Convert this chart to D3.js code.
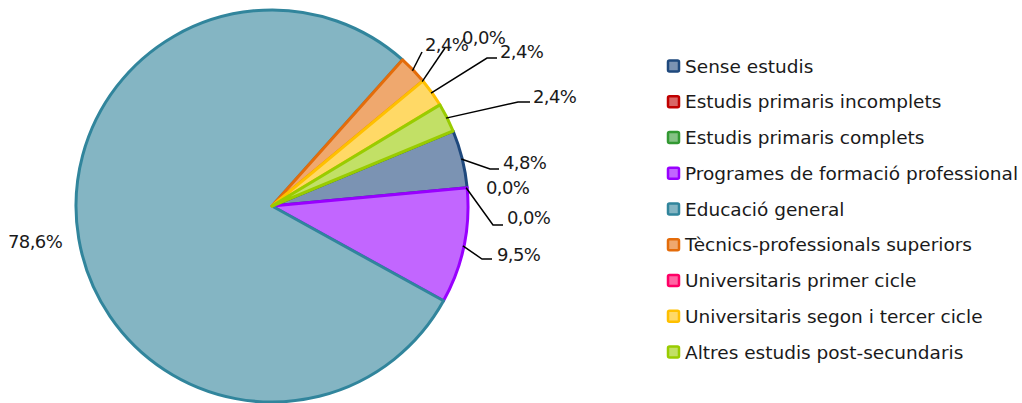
<!DOCTYPE html>
<html>
<head>
<meta charset="utf-8">
<script src="https://cdn.jsdelivr.net/npm/d3@7"></script>
<style>
  body { margin: 0; background: #fff; }
  text { font-family: "DejaVu Sans", sans-serif; fill: #1a1a1a; }
</style>
</head>
<body>
<div id="chart"></div>
<script>
// Categories and counts (percentages derived from these)
var categories = [
  "Sense estudis",
  "Estudis primaris incomplets",
  "Estudis primaris complets",
  "Programes de formació professional",
  "Educació general",
  "Tècnics-professionals superiors",
  "Universitaris primer cicle",
  "Universitaris segon i tercer cicle",
  "Altres estudis post-secundaris"
];
var counts = [2, 0, 0, 4, 33, 1, 0, 1, 1];

// Colours: border colour and lighter fill
var strokeColors = ["#1f497d", "#c00000", "#339933", "#9900ff", "#31859c", "#e46c0a", "#ff0066", "#ffc000", "#99cc00"];
var fillColors   = ["#7b93b3", "#d96666", "#85c285", "#c266ff", "#84b5c3", "#efa86e", "#ff66a3", "#ffd966", "#c2e066"];

// label anchor points (text start x, baseline y) and leader elbow, per slice
var labelLayout = [
  { x: 503, y: 169, elbow: [490, 169], end: [499, 169] },
  { x: 486, y: 194, elbow: null },
  { x: 507, y: 224, elbow: [493, 225], end: [503, 225] },
  { x: 497, y: 261, elbow: [482, 259], end: [492, 259] },
  { x: 8,   y: 248, elbow: null },
  { x: 425, y: 51,  elbow: [422, 52],  end: [422, 52] },
  { x: 462, y: 44,  elbow: [445, 48],  end: [445, 48] },
  { x: 500, y: 58,  elbow: [487, 58],  end: [497, 58] },
  { x: 533, y: 103, elbow: [518, 102], end: [530, 102] }
];

var svgWidth = 1022;
var svgHeight = 403;
var cx = 272, cy = 206, radius = 196;

var svg = d3.select("#chart")
  .append("svg")
  .attr("width", svgWidth)
  .attr("height", svgHeight);

var total = d3.sum(counts);
var fmt = v => (v / total * 100).toFixed(1).replace(".", ",") + "%";

var pie = d3.pie()
  .sort(null)
  .value(d => d)
  .startAngle(67.5 * Math.PI / 180)
  .endAngle(67.5 * Math.PI / 180 + 2 * Math.PI);

var arcs = pie(counts);
var arc = d3.arc().innerRadius(0).outerRadius(radius);

var pieGroup = svg.append("g")
  .attr("transform", `translate(${cx}, ${cy})`);

pieGroup.selectAll("path")
  .data(arcs.filter(d => d.value > 0))
  .join("path")
  .attr("d", arc)
  .attr("fill", d => fillColors[d.index])
  .attr("stroke", d => strokeColors[d.index])
  .attr("stroke-width", 3)
  .attr("stroke-linejoin", "round");

// leader lines and labels
var labelGroup = svg.append("g");

arcs.forEach((d, i) => {
  var lay = labelLayout[i];
  var mid = (d.startAngle + d.endAngle) / 2;
  if (lay.elbow) {
    var sx = cx + Math.sin(mid) * (radius - 1);
    var sy = cy - Math.cos(mid) * (radius - 1);
    labelGroup.append("polyline")
      .attr("points", [[sx, sy], lay.elbow, lay.end].map(p => p.join(",")).join(" "))
      .attr("fill", "none")
      .attr("stroke", "#000")
      .attr("stroke-width", 1.5);
  }
  labelGroup.append("text")
    .attr("x", lay.x)
    .attr("y", lay.y)
    .attr("font-size", "18px")
    .attr("letter-spacing", "-0.6px")
    .text(fmt(d.value));
});

// legend
var legendY = d3.scaleLinear().domain([0, categories.length - 1]).range([66, 352]);

var legend = svg.append("g");

var items = legend.selectAll("g")
  .data(categories)
  .join("g")
  .attr("transform", (d, i) => `translate(668, ${legendY(i)})`);

items.append("rect")
  .attr("x", 0)
  .attr("y", -5.5)
  .attr("width", 11)
  .attr("height", 11)
  .attr("rx", 1.5)
  .attr("fill", (d, i) => fillColors[i])
  .attr("stroke", (d, i) => strokeColors[i])
  .attr("stroke-width", 2.5);

items.append("text")
  .attr("x", 17)
  .attr("y", 0)
  .attr("dy", "0.36em")
  .attr("font-size", "18.5px")
  .text(d => d);
</script>
</body>
</html>
